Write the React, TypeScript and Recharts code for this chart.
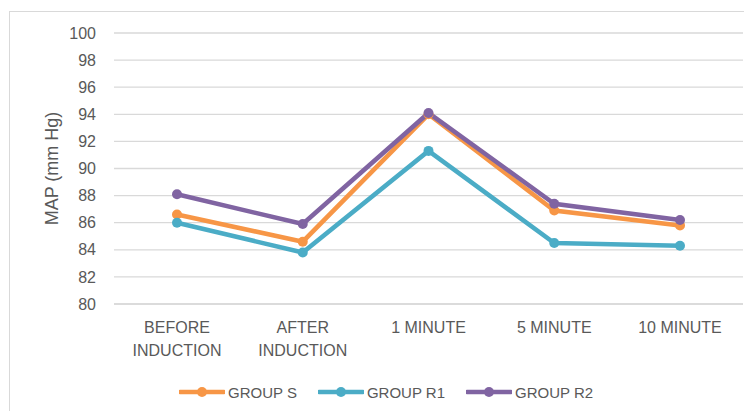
import React from 'react';
import {
  LineChart,
  Line,
  XAxis,
  YAxis,
  CartesianGrid,
  Legend,
  Label
} from 'recharts';

const categories = ['BEFORE\nINDUCTION', 'AFTER\nINDUCTION', '1 MINUTE', '5 MINUTE', '10 MINUTE'];
const groupS = [86.6, 84.6, 94.0, 86.9, 85.8];
const groupR1 = [86.0, 83.8, 91.3, 84.5, 84.3];
const groupR2 = [88.1, 85.9, 94.1, 87.4, 86.2];
const yTicks = [80, 82, 84, 86, 88, 90, 92, 94, 96, 98, 100];

const series = [
  { key: 'groupS', name: 'GROUP S', color: '#F79646' },
  { key: 'groupR1', name: 'GROUP R1', color: '#4BACC6' },
  { key: 'groupR2', name: 'GROUP R2', color: '#8064A2' }
];

const data = categories.map((c, i) => ({
  category: c,
  groupS: groupS[i],
  groupR1: groupR1[i],
  groupR2: groupR2[i]
}));

const FONT = '"Liberation Sans", Arial, sans-serif';
const TEXT = '#595959';
const GRID = '#D9D9D9';

const CategoryTick = (props: any) => {
  const { x, y, payload } = props;
  const lines = String(payload.value).split('\n');
  return (
    <text x={x} y={y} textAnchor="middle" fill={TEXT} fontSize={16} fontFamily={FONT}>
      {lines.map((l, i) => (
        <tspan key={i} x={x} dy={i === 0 ? 29 : 23}>
          {l}
        </tspan>
      ))}
    </text>
  );
};

const LegendContent = () => (
  <div
    style={{
      display: 'flex',
      alignItems: 'center',
      height: 40,
      paddingLeft: 179,
      marginTop: -7,
      boxSizing: 'border-box',
      fontFamily: FONT,
      fontSize: 15,
      color: TEXT
    }}
  >
    {series.map(s => (
      <div key={s.key} style={{ display: 'flex', alignItems: 'center', marginRight: 21, height: 20 }}>
        <svg width={46} height={12} style={{ marginRight: 3 }}>
          <line x1={1} y1={6} x2={45} y2={6} stroke={s.color} strokeWidth={4.5} strokeLinecap="round" />
          <circle cx={23} cy={6} r={5} fill={s.color} />
        </svg>
        <span>{s.name}</span>
      </div>
    ))}
  </div>
);

export default function App() {
  return (
    <div
      style={{
        position: 'relative',
        width: 752,
        height: 419,
        margin: -8,
        overflow: 'hidden',
        background: '#fff'
      }}
    >
      <div
        style={{
          position: 'absolute',
          left: 9,
          top: 11,
          width: 800,
          height: 500,
          border: `1px solid ${GRID}`
        }}
      />
      <div style={{ position: 'absolute', left: 0, top: 0 }}>
        <LineChart
          width={752}
          height={419}
          data={data}
          margin={{ top: 33, right: 9, left: 0, bottom: 0 }}
        >
          <CartesianGrid vertical={false} stroke={GRID} strokeWidth={1.3} />
          <XAxis
            dataKey="category"
            height={75}
            padding={{ left: 63, right: 63 }}
            axisLine={{ stroke: GRID, strokeWidth: 1.3 }}
            tickLine={false}
            tickSize={0}
            tickMargin={0}
            interval={0}
            tick={<CategoryTick />}
          />
          <YAxis
            width={114}
            domain={[80, 100]}
            ticks={yTicks}
            axisLine={false}
            tickLine={false}
            tickSize={0}
            tickMargin={18}
            tick={{ fill: TEXT, fontSize: 16, fontFamily: FONT }}
          >
            <Label
              content={(props: any) => {
                const vb = props.viewBox || { x: 0, y: 33, width: 114, height: 271 };
                const cx = 52;
                const cy = vb.y + vb.height / 2;
                return (
                  <text
                    x={cx}
                    y={cy}
                    transform={`rotate(-90, ${cx}, ${cy})`}
                    textAnchor="middle"
                    dominantBaseline="central"
                    fill={TEXT}
                    fontSize={18}
                    fontFamily={FONT}
                  >
                    MAP (mm Hg)
                  </text>
                );
              }}
            />
          </YAxis>
          <Legend verticalAlign="bottom" height={40} content={<LegendContent />} />
          {series.map(s => (
            <Line
              key={s.key}
              dataKey={s.key}
              name={s.name}
              type="linear"
              stroke={s.color}
              strokeWidth={4.5}
              dot={{ r: 5, fill: s.color, stroke: s.color, strokeWidth: 0 }}
              activeDot={false}
              isAnimationActive={false}
            />
          ))}
        </LineChart>
      </div>
    </div>
  );
}
